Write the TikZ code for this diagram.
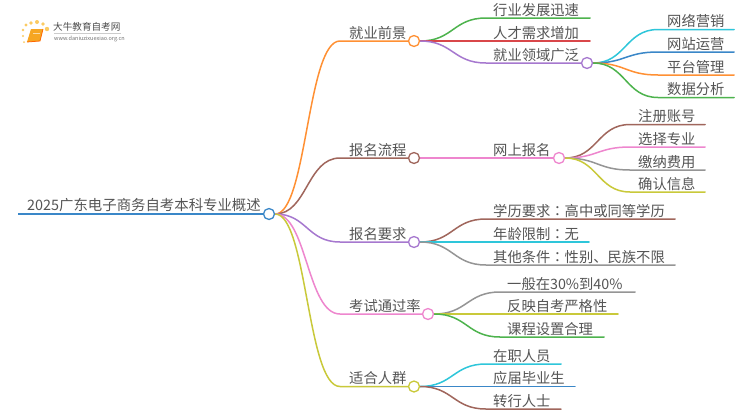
\documentclass[tikz,border=0pt]{standalone}
\usepackage{fontspec}
\setmainfont{Noto Sans CJK SC}
\newfontfamily\cjktc{Noto Sans CJK TC}
\usetikzlibrary{calc}
\definecolor{cblue}{HTML}{3A87C8}
\definecolor{corange}{HTML}{FF9033}
\definecolor{cbrown}{HTML}{A0665C}
\definecolor{cpurple}{HTML}{A678CF}
\definecolor{cpink}{HTML}{EE86CE}
\definecolor{colive}{HTML}{C9C93A}
\definecolor{cgreen}{HTML}{4DB34D}
\definecolor{cred}{HTML}{D9474A}
\definecolor{ccyan}{HTML}{2EC6DA}
\definecolor{cgray}{HTML}{959595}
\definecolor{ctext}{HTML}{555555}
\definecolor{clogo}{HTML}{F6A623}
\definecolor{cdot}{HTML}{FBCB62}
\newcommand{\colonmark}{{\cjktc ：}}
\pgfdeclarelayer{wires}
\pgfsetlayers{wires,main}
\tikzset{
  x=1pt,y=-1pt,
  lbl/.style={font=\fontsize{14.3}{16}\selectfont,text=ctext,inner sep=0pt,anchor=base west},
  hub/.style={circle,draw=#1,fill=white,line width=1.3pt,minimum size=11pt,inner sep=0pt},
  wire/.style={draw=#1,line width=1.5pt,line cap=round},
}
\begin{document}
\begin{tikzpicture}
\useasboundingbox (0,0) rectangle (750,410);
% hubs
\node[hub=cblue] (root) at (269,214) {};
\node[hub=corange] (a) at (414,41) {};
\node[hub=cbrown] (b) at (414,158) {};
\node[hub=cpurple] (c) at (414,242) {};
\node[hub=cpink] (d) at (428,314) {};
\node[hub=colive] (e) at (414,386.5) {};
\node[hub=cpurple] (a3) at (587,63) {};
\node[hub=cpink] (b1) at (559,158) {};
\coordinate (r0) at (18,214);
\begin{pgfonlayer}{wires}
\fill[white] (0,0) rectangle (750,410);
% root line
\draw[cblue,line width=2.4pt] (r0) -- (root);
% first level
\foreach \nn/\cc/\yy in {a/corange/41,b/cbrown/158,c/cpurple/242,d/cpink/314,e/colive/386.5}{
  \coordinate (\nn k) at (340,\yy);
  \draw[wire=\cc] (root.east) .. controls (307,214) and (307,\yy) .. (\nn k) -- (\nn.west);
}
% leaves: parent / colour / knee x / y / end x
\foreach \pa/\cc/\kx/\yy/\ex in {
  a/cgreen/486/18/590,
  a/cred/486/41/590,
  a3/ccyan/658/29.5/734,
  a3/cblue/658/52/734,
  a3/corange/658/75/734,
  a3/cgreen/658/97.5/734,
  b1/cbrown/630/124.5/705,
  b1/cpink/630/147/705,
  b1/cgray/630/170/705,
  b1/colive/630/192/705,
  c/cbrown/486/219/675,
  c/ccyan/486/242/589,
  c/cgray/486/265/675,
  d/cgray/500/292/635,
  d/colive/500/314/618,
  d/cgreen/500/337/604,
  e/ccyan/486/364/561,
  e/cblue/486/386.5/575,
  e/cbrown/486/409/561}{
  \coordinate (k) at (\kx,\yy);
  \coordinate (q) at (\ex,\yy);
  \draw[wire=\cc] let \p1=(\pa.east), \p2=(k) in
    (\p1) .. controls ({\x1*.5+\x2*.5},\y1) and ({\x1*.5+\x2*.5},\y2) .. (\p2) -- (q);
}
% middle level
\coordinate (a3k) at (486,63);
\draw[wire=cpurple] (a.east) .. controls (453,41) and (453,63) .. (a3k) -- (a3.west);
\draw[wire=cpink] (b.east) -- (b1.west);
\end{pgfonlayer}
% logo
\foreach \aa/\bb/\rr in {24/42/1,23/36/1.2,23/30/1.4,26/25/1.7,31/23/1.9,37/22/2,43/24/1.9,47/29/2.2}{\fill[cdot] (\aa,\bb) circle (\rr);}
\fill[clogo] (31,29) -- (43,29) -- (40,41) -- (27,42) -- cycle;
\draw[orange!80!red,line width=.8pt] (27,42) -- (40,41) -- (43,29);
\draw[white!60!clogo,line width=.6pt] (33,33) -- (40,33);
\node[font=\fontsize{9.6}{10}\selectfont,text=black!70,inner sep=0pt,anchor=base west] (logoa) at (53,30) {大牛教育自考网};
\draw[gray!40,line width=.5pt] (54,33.5) -- (121,33.5);
\node[font=\fontsize{5.5}{6}\selectfont,text=black!55,inner sep=0pt,anchor=base west] (logob) at (54,40.5) {www.daniuzixuexiao.org.cn};
% labels
\foreach \xx/\yy/\tt in {
  349/41/就业前景, 349/158/报名流程, 349/242/报名要求, 349/314/考试通过率, 349/386.5/适合人群,
  493/18/行业发展迅速, 493/41/人才需求增加, 493/63/就业领域广泛,
  667/29.5/网络营销, 667/52/网站运营, 667/75/平台管理, 667/97.5/数据分析,
  493/158/网上报名,
  638/124.5/注册账号, 638/147/选择专业, 638/170/缴纳费用, 638/192/确认信息,
  493/219/学历要求\colonmark 高中或同等学历, 493/242/年龄限制\colonmark 无, 493/265/其他条件\colonmark 性别、民族不限,
  507/292/一般在30\%到40\%, 507/314/反映自考严格性, 507/337/课程设置合理,
  493/364/在职人员, 493/386.5/应届毕业生, 493/409/转行人士}{
  \node[lbl] at (\xx,\yy-2.6) {\tt};
}
\node[font=\fontsize{14.4}{17}\selectfont,text=ctext,inner sep=0pt,anchor=base west] (rootlabel) at (27,210.4) {2025广东电子商务自考本科专业概述};
\end{tikzpicture}
\end{document}
